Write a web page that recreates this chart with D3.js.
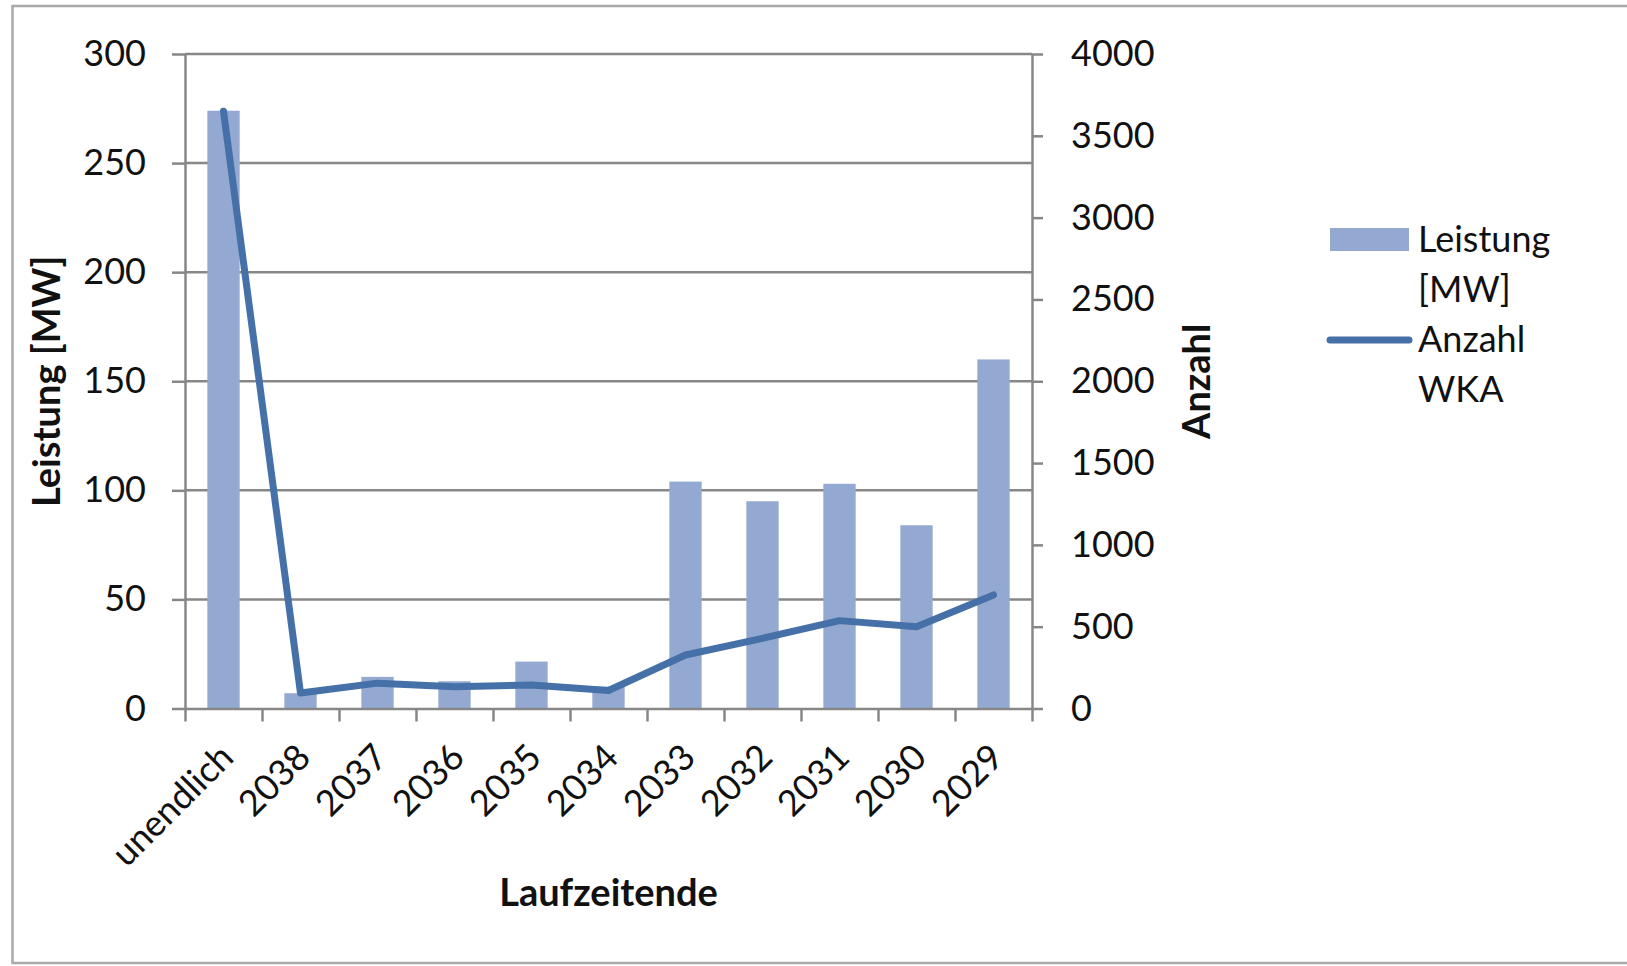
<!DOCTYPE html>
<html>
<head>
<meta charset="utf-8">
<script src="https://cdn.jsdelivr.net/npm/d3@7"></script>
<style>
  html, body { margin: 0; padding: 0; background: #fff; }
  svg { display: block; }
  text { font-family: Lato, "Open Sans", sans-serif; fill: #111; }
</style>
</head>
<body>
<svg id="chart" width="1627" height="966"></svg>
<script>
// ---- data ----
const categories = ["unendlich", "2038", "2037", "2036", "2035", "2034", "2033", "2032", "2031", "2030", "2029"];
const leistungMW = [274, 7, 14.5, 12.5, 21.5, 10, 104, 95, 103, 84, 160];
const anzahlWKA = [3650, 95, 155, 133, 144, 110, 327, 429, 537, 500, 694];
const leftTicks = [0, 50, 100, 150, 200, 250, 300];
const rightTicks = [0, 500, 1000, 1500, 2000, 2500, 3000, 3500, 4000];
const legendBar = ["Leistung", "[MW]"];
const legendLine = ["Anzahl", "WKA"];
const titleLeft = "Leistung [MW]";
const titleRight = "Anzahl";
const titleX = "Laufzeitende";

// ---- layout ----
const L = 185, R = 1032, T = 54, B = 708.5;
const barColor = "#94a9d1";
const lineColor = "#4571a8";
const axisColor = "#878787";
const fs = 36;
const fsBold = 38;

const svg = d3.select("#chart");

// outer border
svg.append("rect").attr("x", 12.5).attr("y", 6).attr("width", 1640).attr("height", 957)
  .attr("fill", "none").attr("stroke", "#a9a9a9").attr("stroke-width", 2.5);

const x = d3.scaleBand().domain(categories).range([L, R]).paddingInner(0.58).paddingOuter(0.29);
const xIdx = d3.scaleLinear().domain([0, categories.length]).range([L, R]);
const yL = d3.scaleLinear().domain([0, 300]).range([B, T]);
const yR = d3.scaleLinear().domain([0, 4000]).range([B, T]);

// gridlines
svg.append("g").selectAll("line").data(leftTicks.filter(d => d > 0)).join("line")
  .attr("x1", L).attr("x2", R).attr("y1", d => yL(d)).attr("y2", d => yL(d))
  .attr("stroke", axisColor).attr("stroke-width", 2.5);

// bars
svg.append("g").selectAll("rect").data(categories).join("rect")
  .attr("x", d => x(d)).attr("width", x.bandwidth())
  .attr("y", (d, i) => yL(leistungMW[i]))
  .attr("height", (d, i) => B - yL(leistungMW[i]))
  .attr("fill", barColor);

function styleAxis(g) {
  g.selectAll("path, line").attr("stroke", axisColor).attr("stroke-width", 2.5);
  g.selectAll("text").attr("font-size", fs).attr("font-family", "Lato, sans-serif").attr("fill", "#111");
}

// left axis
svg.append("g").attr("transform", `translate(${L},0)`)
  .call(d3.axisLeft(yL).tickValues(leftTicks).tickFormat(d3.format("d")).tickSize(13).tickSizeOuter(0).tickPadding(26))
  .call(styleAxis);

// right axis
svg.append("g").attr("transform", `translate(${R},0)`)
  .call(d3.axisRight(yR).tickValues(rightTicks).tickFormat(d3.format("d")).tickSize(11).tickSizeOuter(0).tickPadding(28))
  .call(styleAxis);

// bottom axis (ticks at category boundaries)
svg.append("g").attr("transform", `translate(0,${B})`)
  .call(d3.axisBottom(xIdx).tickValues(d3.range(categories.length + 1)).tickFormat("").tickSize(13).tickSizeOuter(0))
  .call(styleAxis);

// category labels
svg.append("g").selectAll("text").data(categories).join("text")
  .attr("transform", d => `translate(${x(d) + x.bandwidth() / 2 + 12},${B + 51}) rotate(-45)`)
  .attr("text-anchor", "end")
  .attr("font-size", fs)
  .text(d => d);

// line
const line = d3.line()
  .x((d, i) => x(categories[i]) + x.bandwidth() / 2)
  .y(d => yR(d));
svg.append("path").datum(anzahlWKA)
  .attr("d", line)
  .attr("fill", "none").attr("stroke", lineColor).attr("stroke-width", 7)
  .attr("stroke-linejoin", "round").attr("stroke-linecap", "round");

// axis titles
svg.append("text").attr("transform", `translate(60,${(T + B) / 2}) rotate(-90)`)
  .attr("text-anchor", "middle").attr("font-size", fsBold).attr("font-weight", "bold").text(titleLeft);
svg.append("text").attr("transform", `translate(1210,${(T + B) / 2}) rotate(-90)`)
  .attr("text-anchor", "middle").attr("font-size", fsBold).attr("font-weight", "bold").text(titleRight);
svg.append("text").attr("x", (L + R) / 2).attr("y", 906)
  .attr("text-anchor", "middle").attr("font-size", fsBold).attr("font-weight", "bold").text(titleX);

// legend
const lg = svg.append("g");
lg.append("rect").attr("x", 1330).attr("y", 228).attr("width", 79).attr("height", 23).attr("fill", barColor);
lg.append("line").attr("x1", 1330).attr("x2", 1409).attr("y1", 340).attr("y2", 340)
  .attr("stroke", lineColor).attr("stroke-width", 7).attr("stroke-linecap", "round");
lg.selectAll("text.lb").data(legendBar).join("text").attr("class", "lb")
  .attr("x", 1418).attr("y", (d, i) => 252 + i * 50).attr("font-size", fs).text(d => d);
lg.selectAll("text.ll").data(legendLine).join("text").attr("class", "ll")
  .attr("x", 1418).attr("y", (d, i) => 352 + i * 50).attr("font-size", fs).text(d => d);
</script>
</body>
</html>
